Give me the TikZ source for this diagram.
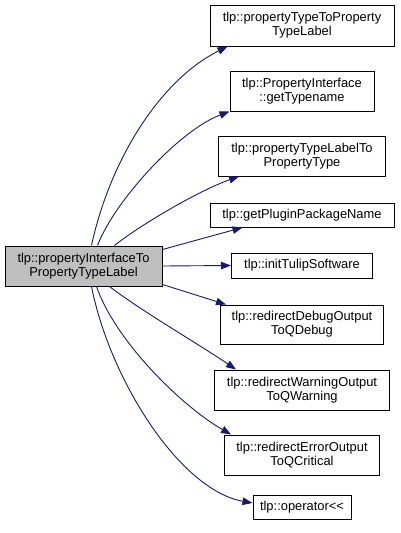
\documentclass[tikz,border=0pt]{standalone}
\usepackage{fontspec}
\setmainfont{Liberation Sans}
\usetikzlibrary{arrows.meta}
\definecolor{edgeblue}{HTML}{191970}
\definecolor{maingrey}{HTML}{BFBFBF}

\tikzset{
  fnbox/.style={draw=black, line width=1pt, inner sep=0pt, align=center,
    font=\fontsize{12.9}{14.3}\selectfont},
  callarrow/.style={edgeblue, line width=0.9pt, ->, >={Triangle[length=10pt,width=7.5pt]}}
}

\begin{document}
\begin{tikzpicture} [x=1pt,y=-1pt]
\useasboundingbox (0,0) rectangle (400,533);
\node[fnbox, fill=maingrey, minimum width=157pt, minimum height=40pt] (main) at (83.5,266) {tlp::propertyInterfaceTo\\PropertyTypeLabel};
% called functions, one column on the right
\foreach \n/\y/\w/\h/\t in {
  typeToLabel/25.5/184/41/{tlp::propertyTypeToProperty\\TypeLabel},
  getTypename/91/144/40/{tlp::PropertyInterface\\::getTypename},
  labelToType/156/167/40/{tlp::propertyTypeLabelTo\\PropertyType},
  pluginName/215/184/24/{tlp::getPluginPackageName},
  initTulip/265.5/141/25/{tlp::initTulipSoftware},
  debugOut/324.5/163/39/{tlp::redirectDebugOutput\\ToQDebug},
  warningOut/390/175/40/{tlp::redirectWarningOutput\\ToQWarning},
  errorOut/455/155/40/{tlp::redirectErrorOutput\\ToQCritical},
  opOut/507/98/24/{tlp::operator<{}<}} {
 \node[fnbox, minimum width=\w pt, minimum height=\h pt] (\n) at (302,\y) {\t};
}
% calls
\draw[callarrow] ([xshift=87pt]main.north west) .. controls (110,160) and (160,80) .. ([xshift=18pt]typeToLabel.south west);
\draw[callarrow] ([xshift=93pt]main.north west) .. controls (115,200) and (180,130) .. (getTypename.south west);
\draw[callarrow] ([xshift=110pt]main.north west) .. controls (140,225) and (200,190) .. ([xshift=21pt]labelToType.south west);
\draw[callarrow] ([yshift=-4pt]main.north east) -- ([xshift=33pt]pluginName.south west);
\draw[callarrow] (main.east) -- (initTulip.west);
\draw[callarrow] ([yshift=2pt]main.south east) -- ([xshift=6pt]debugOut.north west);
\draw[callarrow] ([xshift=105pt]main.south west) .. controls (140,310) and (200,345) .. ([xshift=22pt]warningOut.north west);
\draw[callarrow] ([xshift=92pt]main.south west) .. controls (115,340) and (180,405) .. ([xshift=7pt]errorOut.north west);
\draw[callarrow] ([xshift=87pt]main.south west) .. controls (110,380) and (180,490) .. ([yshift=4pt]opOut.west);
\end{tikzpicture}
\end{document}
